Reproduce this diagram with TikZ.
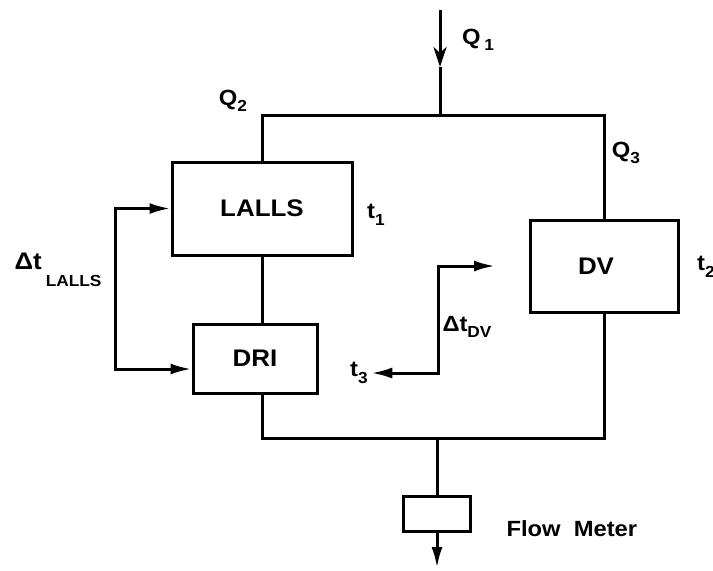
\documentclass[tikz,border=0pt]{standalone}
\usepackage{fontspec}
\setmainfont{Liberation Sans}[FakeStretch=1.08]
\usepackage{tikz}
\usetikzlibrary{arrows.meta,positioning,calc}

\newcommand\lowsub[1]{\raisebox{-0.55ex}{\fontsize{8}{9}\selectfont #1}}

\begin{document}
\begin{tikzpicture}[
  x=0.5pt, y=-0.5pt,
  >={Latex[length=10.5pt,width=5.5pt]},
  line width=1.5pt,
  every node/.style={font=\bfseries\fontsize{11}{13}\selectfont},
  unit/.style={draw, line width=1.5pt, inner sep=0pt, font=\bfseries\fontsize{12}{14}\selectfont},
  lbl/.style={inner sep=1pt}
]
\useasboundingbox (0,0) rectangle (713,570);
% detector boxes
\node[unit, minimum width=90pt, minimum height=46.5pt] (lalls) at (262,208.5) {LALLS};
\node[unit, minimum width=62pt, minimum height=34.5pt] (dri) at (255,358.5) {DRI};
\node[unit, minimum width=74pt, minimum height=46pt] (dv) at (604,266) {\hspace*{-8pt}DV};
\node[unit, minimum width=33.5pt, minimum height=17.5pt] (meter) at (437,513.5) {};
% flow lines
\coordinate (inlet) at (440,10);
\coordinate (inmid) at (440,67);
\coordinate (split) at (440,115);
\coordinate (join) at (437,438);
\coordinate (outlet) at (437,568);
\draw[->, >={Stealth[length=10pt,width=6.5pt,inset=3pt]}] (inlet) -- (inmid);
\draw (inmid) -- (split);
\draw (lalls.north) |- (split) -| (dv.north);
\draw (lalls.south) -- (lalls.south |- dri.north);
\draw (lalls.south |- dri.south) |- (join) -| (dv.south);
\draw (join) -- (meter);
\draw[->] (meter) -- (outlet);
% delay arrows
\coordinate (lk) at (115,369);
\draw[<->] (lalls.west) -| (lk) -- (lk -| dri.west);
\node[lbl] (t3) at (359,373) {t\lowsub{3}};
\coordinate (dvk) at (438,318);
\coordinate (dvtip) at (495,266);
\draw[<->] (t3) -| (dvk) |- (dvtip);
% labels
\node[lbl] (q1) at (478,40) {Q\,\lowsub{1}};
\node[lbl] (q2) at (233,101) {Q\lowsub{2}};
\node[lbl] (q3) at (626,153) {Q\lowsub{3}};
\node[lbl] (t1) at (376,215) {t\lowsub{1}};
\node[lbl] (t2) at (706,267) {t\lowsub{2}};
\node[lbl] (dtdv) at (467,327) {Δt\lowsub{DV}};
\node[lbl] (dtlalls) at (58,270) {\fontsize{12}{14}\selectfont Δt\,\raisebox{-1.3ex}{\fontsize{8}{9}\selectfont LALLS}};
\node[lbl, anchor=west] (flow) at (503,529) {Flow\ \ Meter};
\end{tikzpicture}
\end{document}
